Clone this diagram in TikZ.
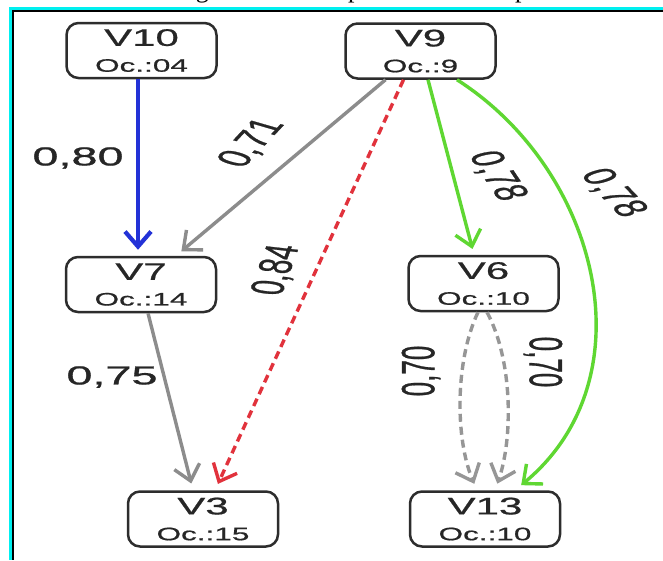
\documentclass[tikz,border=0pt]{standalone}
\usepackage{fontspec}
\setmainfont{Liberation Sans}
\newfontfamily\boxfont[FakeStretch=1.75,FakeBold=0.8]{Liberation Sans}
\newfontfamily\edgefont[FakeBold=0.8]{Liberation Sans}
\newfontfamily\capfont{Liberation Serif}
\usetikzlibrary{arrows.meta}
\definecolor{eblue}{RGB}{35,50,215}
\definecolor{egray}{RGB}{140,140,140}
\definecolor{edgray}{RGB}{150,150,150}
\definecolor{ered}{RGB}{225,50,60}
\definecolor{egreen}{RGB}{95,215,50}
\definecolor{frcyan}{RGB}{0,240,240}
\definecolor{boxline}{RGB}{45,45,45}
\newcommand\vtxt[2]{{\fontsize{24}{28}\selectfont #1}\\[12pt]{\fontsize{18}{20}\selectfont #2}}
\begin{document}
\begin{tikzpicture}[x=1pt,y=-1pt,
  vbox/.style={draw=boxline, line width=2.5pt, rounded corners=12pt,
    minimum width=150pt, minimum height=55pt, inner sep=0pt, align=center,
    text=black!85, font=\boxfont},
  elbl/.style={font=\edgefont\fontsize{26}{28}\selectfont, text=black!85,
    inner sep=0pt, xscale=1.8},
  arr/.style={line width=3.4pt, -{Straight Barb[length=15pt,width=26pt]}},
  dsh/.style={dash pattern=on 8pt off 5pt}]
\useasboundingbox (0,0) rectangle (663,560);
\fill[white] (0,0) rectangle (663,560);
\begin{scope}
\clip (0,0) rectangle (663,560);
\node[font=\capfont\fontsize{26}{28}\selectfont, anchor=base west, inner sep=0pt]
  (cap) at (174,-3) {Figura 2 – Exemplo de Grafo Explicativo};
\end{scope}
\draw[frcyan, line width=3pt] (663,8.5) -- (10.5,8.5) -- (10.5,560);
\draw[black, line width=2pt] (663,11) -- (13,11) -- (13,560);

\node[vbox] (v10) at (141.5,50.5) {\vtxt{V10}{Oc.:04}};
\node[vbox] (v9) at (420.5,51) {\vtxt{V9}{Oc.:9}};
\node[vbox] (v7) at (141,284.5) {\vtxt{V7}{Oc.:14}};
\node[vbox] (v6) at (483.5,283.5) {\vtxt{V6}{Oc.:10}};
\node[vbox] (v3) at (203,519) {\vtxt{V3}{Oc.:15}};
\node[vbox] (v13) at (485,519) {\vtxt{V13}{Oc.:10}};

\draw[arr, eblue, line width=4.2pt, shorten >=6pt] ([xshift=-3.5pt]v10.south) -- ([xshift=-3pt]v7.north);
\draw[arr, egray, shorten >=7pt] ([xshift=-35pt]v9.south) -- ([xshift=35pt]v7.north);
\draw[arr, ered, dsh, shorten >=7pt] ([xshift=-17pt]v9.south) -- ([xshift=12pt]v3.north);
\draw[arr, egreen, shorten >=6pt] ([xshift=7.5pt]v9.south) -- ([xshift=-9.5pt]v6.north);
\draw[arr, egreen, shorten >=8pt] ([xshift=36.5pt]v9.south) .. controls +(143,91.5) and +(135,-111.5) .. ([xshift=30pt]v13.north);
\draw[arr, edgray, dsh, shorten >=7pt] ([xshift=-5.5pt]v6.south) .. controls +(-23,48) and +(-22,-51.5) .. ([xshift=-8pt]v13.north);
\draw[arr, edgray, dsh, shorten >=7pt] ([xshift=3.5pt]v6.south) .. controls +(26,48) and +(18,-51.5) .. ([xshift=10pt]v13.north);
\draw[arr, egray, shorten >=7pt] ([xshift=7pt]v7.south) -- ([xshift=-10pt]v3.north);

\node[elbl] (l80) at (78,158) {0,80};
\node[elbl, rotate=62.6] (l71) at (252,143) {0,71};
\node[elbl, rotate=78.6] (l84) at (277,270) {0,84};
\node[elbl, rotate=-69.5] (l78a) at (497,176) {0,78};
\node[elbl, rotate=-61.8] (l78b) at (613,193) {0,78};
\node[elbl] (l75) at (112,377) {0,75};
\node[elbl, rotate=90] (l70a) at (421,371) {0,70};
\node[elbl, rotate=-90] (l70b) at (543,362) {0,70};
\end{tikzpicture}
\end{document}
